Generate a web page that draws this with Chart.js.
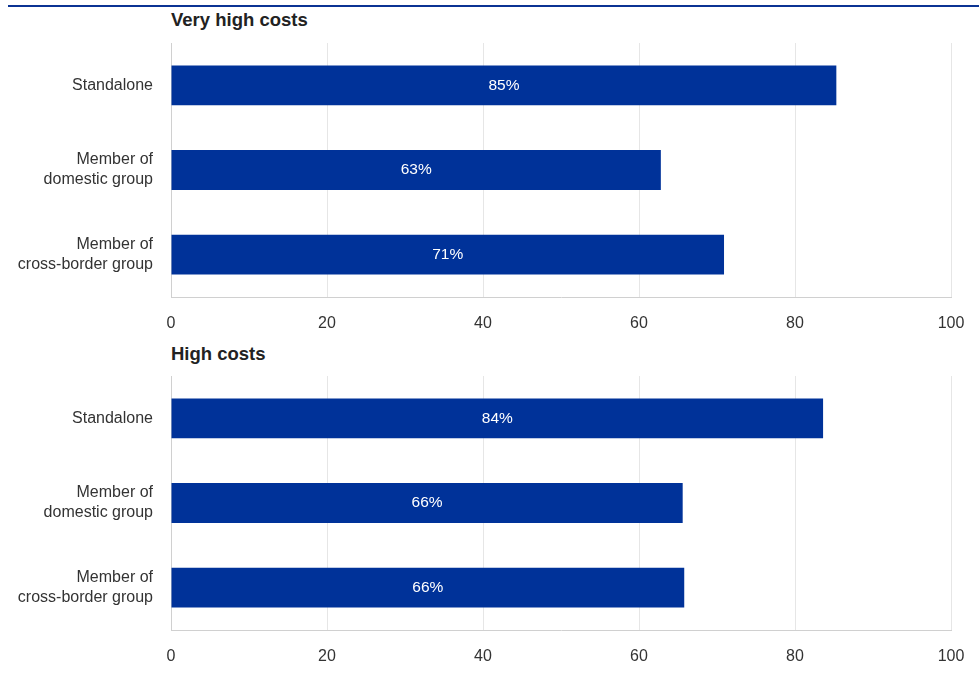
<!DOCTYPE html>
<html>
<head>
<meta charset="utf-8">
<script src="https://cdn.jsdelivr.net/npm/chart.js@4/dist/chart.umd.min.js"></script>
<style>
    body { margin: 0; background: #fff; font-family: "Liberation Sans", Arial, sans-serif; }
    #pagina { position: relative; width: 979px; height: 674px; overflow: hidden; }
    .linha-topo { position: absolute; left: 8px; right: 0; top: 5px; height: 2px; background: #0b3393; }
    .titulo { position: absolute; left: 171px; font-weight: bold; font-size: 18.5px; color: #222; }
    .painel { position: absolute; left: 0; width: 979px; height: 340px; }
</style>
</head>
<body>
<div id="pagina">
    <div class="linha-topo"></div>
    <div class="titulo" style="top: 9px;">Very high costs</div>
    <div class="painel" style="top: 0px;"><canvas id="graficoMuitoAltos" width="979" height="340"></canvas></div>
    <div class="titulo" style="top: 343px;">High costs</div>
    <div class="painel" style="top: 333px;"><canvas id="graficoAltos" width="979" height="340"></canvas></div>
</div>
<script>
const categories = [['Standalone'], ['Member of', 'domestic group'], ['Member of', 'cross-border group']];
const veryHighCosts = [85.3, 62.8, 70.9];
const highCosts = [83.6, 65.6, 65.8];
const xTickLabels = [0, 20, 40, 60, 80, 100];

// rótulos em percentagem dentro das barras
const barLabels = {
    id: 'barLabels',
    afterDatasetsDraw(chart) {
        const ctx = chart.ctx;
        const values = chart.data.datasets[0].data;
        ctx.save();
        ctx.fillStyle = '#ffffff';
        ctx.font = '15.5px "Liberation Sans", Arial, sans-serif';
        ctx.textAlign = 'center';
        ctx.textBaseline = 'middle';
        chart.getDatasetMeta(0).data.forEach((bar, i) => {
            ctx.fillText(`${Math.round(values[i])}%`, (bar.x + bar.base) / 2, bar.y);
        });
        ctx.restore();
    }
};

function makeChart(canvasId, values) {
    const ctx = document.getElementById(canvasId).getContext('2d');
    return new Chart(ctx, {
        type: 'bar',
        data: {
            labels: categories,
            datasets: [{
                data: values,
                backgroundColor: '#003299',
                categoryPercentage: 1,
                barPercentage: 0.47
            }]
        },
        options: {
            indexAxis: 'y',
            responsive: false,
            animation: false,
            layout: { padding: { top: 43, right: 28, left: 0, bottom: 0 } },
            plugins: {
                legend: { display: false },
                tooltip: { enabled: false }
            },
            scales: {
                x: {
                    min: 0,
                    max: 100,
                    afterBuildTicks: (scale) => {
                        scale.ticks = xTickLabels.map(v => ({ value: v }));
                    },
                    afterFit: (scale) => {
                        scale.height = 43;
                        scale.paddingLeft = 0;
                        scale.paddingRight = 0;
                    },
                    grid: { color: '#e6e6e6', drawTicks: false },
                    border: { display: true, color: '#d0d0d0' },
                    ticks: {
                        padding: 17,
                        color: '#333',
                        font: { size: 16, family: '"Liberation Sans", Arial, sans-serif' }
                    }
                },
                y: {
                    afterFit: (scale) => { scale.width = 171; },
                    grid: { display: false, drawTicks: false },
                    border: { display: true, color: '#d0d0d0' },
                    ticks: {
                        padding: 18,
                        color: '#333',
                        font: { size: 16, lineHeight: 1.25, family: '"Liberation Sans", Arial, sans-serif' }
                    }
                }
            }
        },
        plugins: [barLabels]
    });
}

makeChart('graficoMuitoAltos', veryHighCosts);
makeChart('graficoAltos', highCosts);
</script>
</body>
</html>
